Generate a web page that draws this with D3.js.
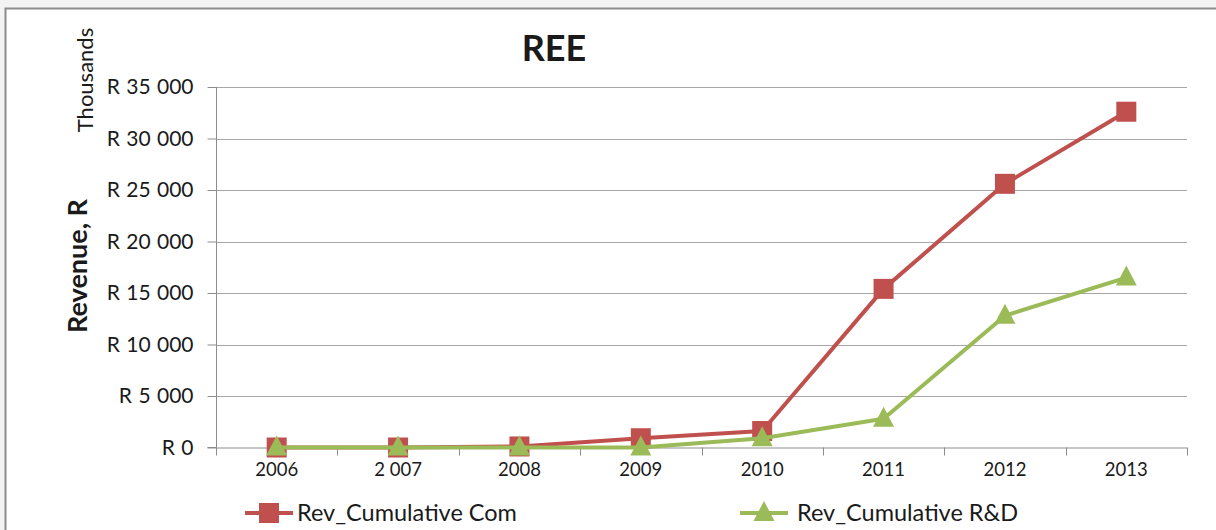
<!DOCTYPE html>
<html><head><meta charset="utf-8">
<script src="https://cdn.jsdelivr.net/npm/d3@7"></script>
<style>
html,body{margin:0;padding:0;background:#f3f3f3;}
svg{display:block;}
text{font-family:Lato,"Open Sans",sans-serif;fill:#1a1a1a;}
</style></head>
<body>
<svg id="c" width="1216" height="530"></svg>
<script>
const categories = ["2006","2 007","2008","2009","2010","2011","2012","2013"];
const revCom = [0, 0, 100, 900, 1600, 15400, 25600, 32600];
const revRD  = [0, 0, 0, 0, 900, 2800, 12800, 16500];
const yTicks = [0, 5000, 10000, 15000, 20000, 25000, 30000, 35000];
const yTickLabels = ["R 0","R 5 000","R 10 000","R 15 000","R 20 000","R 25 000","R 30 000","R 35 000"];
const seriesNames = ["Rev_Cumulative Com","Rev_Cumulative R&D"];
const colors = ["#C0504D","#9BBB59"];

const svg = d3.select("#c");
svg.append("rect").attr("x",5.5).attr("y",8.5).attr("width",1240).attr("height",600)
  .attr("fill","#fff").attr("stroke","#8c8c8c").attr("stroke-width",2);

const L=216, R=1187, T=87, B=447.5;
const x = d3.scaleBand().domain(categories).range([L,R]).padding(0);
const y = d3.scaleLinear().domain([0,35000]).range([B,T]);
const cx = c => x(c)+x.bandwidth()/2;

svg.append("g").selectAll("line").data(yTicks.slice(1)).join("line")
  .attr("x1",L).attr("x2",R).attr("y1",d=>Math.round(y(d))+0.5).attr("y2",d=>Math.round(y(d))+0.5)
  .attr("stroke","#a6a6a6").attr("stroke-width",1.2);

const yAxis = d3.axisLeft(y).tickValues(yTicks).tickSize(9).tickPadding(14)
  .tickFormat((d,i)=>yTickLabels[i]);
const gy = svg.append("g").attr("transform",`translate(${L+0.5},0)`).call(yAxis);
gy.select(".domain").attr("stroke","#8c8c8c").attr("d",`M-9,${B}H0V${T}`);
gy.selectAll(".tick line").attr("stroke","#8c8c8c");
gy.selectAll(".tick text").style("font-size","21px").style("font-family","Lato, sans-serif")
  .style("word-spacing","1px").attr("fill","#1a1a1a");

const xAxis = d3.axisBottom(x).tickSize(0).tickPadding(15);
const gx = svg.append("g").attr("transform",`translate(0,${B})`).call(xAxis);
gx.select(".domain").attr("stroke","#8c8c8c").attr("d",`M${L},0.5H${R}`);
gx.selectAll(".tick text").style("font-size","18.5px").style("font-family","Lato, sans-serif").attr("fill","#1a1a1a");
const bounds = categories.map(c=>x(c)).concat([R]);
svg.append("g").selectAll("line").data(bounds).join("line")
  .attr("x1",d=>Math.round(d)+0.5).attr("x2",d=>Math.round(d)+0.5)
  .attr("y1",B).attr("y2",B+8).attr("stroke","#8c8c8c");

const line = d3.line().x((d,i)=>cx(categories[i])).y(d=>y(d));
const sq = 20;
function square(g, px, py, col){
  g.append("rect").attr("x",px-sq/2).attr("y",py-sq/2).attr("width",sq).attr("height",sq).attr("fill",col);
}
function tri(g, px, py, col){
  const h=20, w=21;
  g.append("path").attr("d",`M${px},${py-h*0.6}L${px+w/2},${py+h*0.4}L${px-w/2},${py+h*0.4}Z`).attr("fill",col);
}
const g1 = svg.append("g");
g1.append("path").datum(revCom).attr("d",line).attr("fill","none").attr("stroke",colors[0]).attr("stroke-width",4).attr("stroke-linejoin","round");
revCom.forEach((v,i)=>square(g1,cx(categories[i]),y(v),colors[0]));
const g2 = svg.append("g");
g2.append("path").datum(revRD).attr("d",line).attr("fill","none").attr("stroke",colors[1]).attr("stroke-width",4).attr("stroke-linejoin","round");
revRD.forEach((v,i)=>tri(g2,cx(categories[i]),y(v),colors[1]));

svg.append("text").attr("x",554).attr("y",61).attr("text-anchor","middle")
  .style("font-size","36px").style("font-weight","bold").text("REE");

svg.append("text").attr("transform","translate(93,80) rotate(-90)").attr("text-anchor","middle")
  .style("font-size","22px").text("Thousands");
svg.append("text").attr("transform","translate(87,266) rotate(-90)").attr("text-anchor","middle")
  .style("font-size","27px").style("font-weight","bold").text("Revenue, R");

const leg = [[245,297],[740,797]];
seriesNames.forEach((n,i)=>{
  const g = svg.append("g");
  const [lx,tx] = leg[i];
  const ly = 513;
  g.append("line").attr("x1",lx).attr("x2",lx+48).attr("y1",ly).attr("y2",ly).attr("stroke",colors[i]).attr("stroke-width",4);
  if(i===0) square(g,lx+24,ly,colors[i]); else tri(g,lx+24,ly,colors[i]);
  g.append("text").attr("x",tx).attr("y",ly+8).style("font-size","23.5px").text(n);
});
</script>
</body></html>
